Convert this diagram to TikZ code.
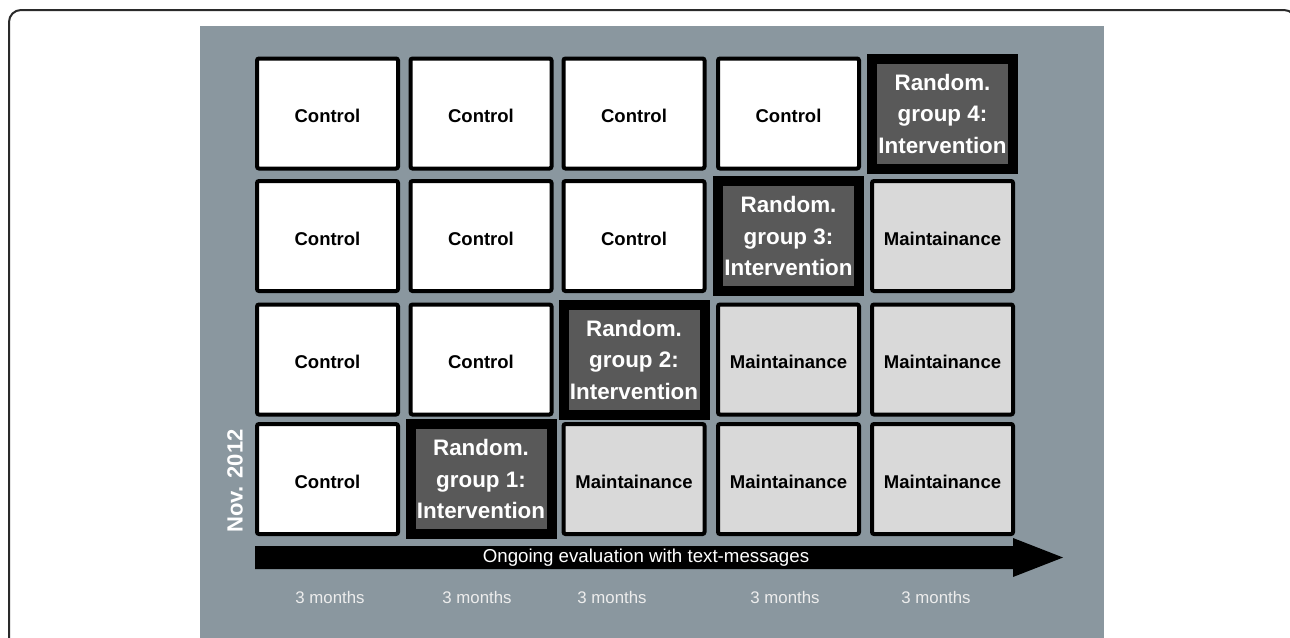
\documentclass[tikz,border=0pt]{standalone}
\usepackage{fontspec}
\setmainfont{Liberation Sans}
\usetikzlibrary{positioning}

\definecolor{panelgray}{HTML}{8A979F}
\definecolor{maintgray}{HTML}{D9D9D9}
\definecolor{intgray}{HTML}{595959}
\definecolor{framegray}{HTML}{2A2A2A}
\definecolor{monthgray}{HTML}{EDEDED}

\tikzset{
  cellbox/.style={draw=black, line width=4pt, rounded corners=2pt,
    minimum width=141pt, minimum height=110pt, inner sep=0pt,
    font=\fontsize{18.5}{22}\selectfont\bfseries},
  ctrlbox/.style={cellbox, fill=white, text height=18pt, text depth=0pt},
  maintbox/.style={cellbox, fill=maintgray, text height=18pt, text depth=0pt},
  intbox/.style={cellbox, line width=10pt, rounded corners=0pt, fill=intgray,
    text=white, align=center,
    font=\fontsize{22.4}{31.5}\selectfont\bfseries},
  monthlabel/.style={text=monthgray, font=\fontsize{16.8}{20}\selectfont}
}

\begin{document}
\begin{tikzpicture}[x=1pt, y=-1pt]
			%%%%% START %%%%%
			\useasboundingbox (0, 0) rectangle (1290, 637);
			\clip (0, 0) rectangle (1290, 637);
			
			\draw[line width=2pt, color=framegray, rounded corners=12pt] (9, 10) rectangle (1296, 700);
			\fill[panelgray] (200, 26) rectangle (1104, 640);
			
			% row 1
			\node[ctrlbox] (c11) at (327.5, 113.5) {Control};
			\node[ctrlbox] (c12) at (481, 113.5) {Control};
			\node[ctrlbox] (c13) at (634, 113.5) {Control};
			\node[ctrlbox] (c14) at (788.5, 113.5) {Control};
			\node[intbox] (g4) at (942.5, 113.5) {Random.\\group 4:\\Intervention};
			
			% row 2
			\node[ctrlbox] (c21) at (327.5, 236) {Control};
			\node[ctrlbox] (c22) at (481, 236) {Control};
			\node[ctrlbox] (c23) at (634, 236) {Control};
			\node[intbox] (g3) at (788.5, 236) {Random.\\group 3:\\Intervention};
			\node[maintbox] (m25) at (942.5, 236) {Maintainance};
			
			% row 3
			\node[ctrlbox] (c31) at (327.5, 359.5) {Control};
			\node[ctrlbox] (c32) at (481, 359.5) {Control};
			\node[intbox] (g2) at (634, 359.5) {Random.\\group 2:\\Intervention};
			\node[maintbox] (m34) at (788.5, 359.5) {Maintainance};
			\node[maintbox] (m35) at (942.5, 359.5) {Maintainance};
			
			% row 4
			\node[ctrlbox] (c41) at (327.5, 479) {Control};
			\node[intbox] (g1) at (481, 479) {Random.\\group 1:\\Intervention};
			\node[maintbox] (m43) at (634, 479) {Maintainance};
			\node[maintbox] (m44) at (788.5, 479) {Maintainance};
			\node[maintbox] (m45) at (942.5, 479) {Maintainance};
			
			\node[rotate=90, text=white, font=\fontsize{22}{26}\selectfont\bfseries] (start) at (235, 481) {Nov. 2012};
			
			% time arrow
			\fill[black] (255, 546) -- (1013, 546) -- (1013, 538) -- (1063, 557.5) -- (1013, 577) -- (1013, 569) -- (255, 569) -- cycle;
			\node[text=white, font=\fontsize{18.7}{22}\selectfont] (eval) at (646, 557.5) {Ongoing evaluation with text-messages};
			
			\node[monthlabel] (t1) at (330, 597) {3 months};
			\node[monthlabel] (t2) at (477, 597) {3 months};
			\node[monthlabel] (t3) at (612, 597) {3 months};
			\node[monthlabel] (t4) at (785, 597) {3 months};
			\node[monthlabel] (t5) at (936, 597) {3 months};
			
			%%%%% END %%%%%
\end{tikzpicture}
\end{document}
